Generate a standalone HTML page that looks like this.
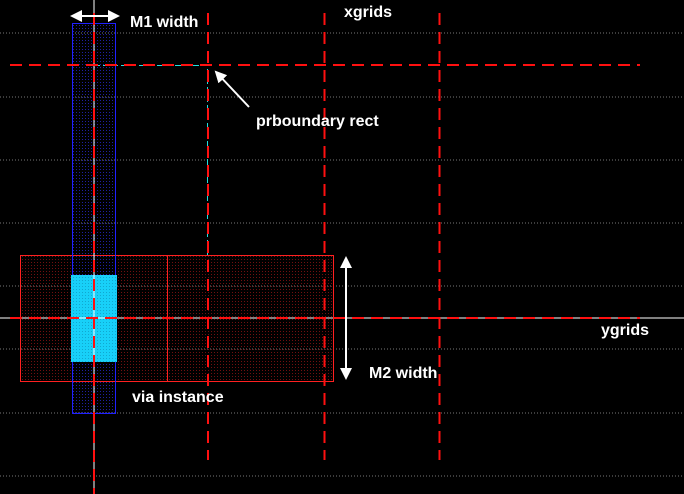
<!DOCTYPE html>
<html><head><meta charset="utf-8"><style>
html,body{margin:0;padding:0;background:#000;width:684px;height:494px;overflow:hidden}
text{font-family:"Liberation Sans",sans-serif;font-weight:bold;font-size:16px;fill:#fff}
</style></head><body>
<svg id="c" width="684" height="494" viewBox="0 0 684 494" xmlns="http://www.w3.org/2000/svg">
<defs>
<pattern id="pb" width="3" height="3" patternUnits="userSpaceOnUse"><rect x="1" y="1" width="1" height="1" fill="#2020a0"/></pattern>
<pattern id="pr" width="3" height="3" patternUnits="userSpaceOnUse"><rect x="1" y="1" width="1" height="1" fill="#701010"/></pattern>
<pattern id="pc" width="3" height="3" patternUnits="userSpaceOnUse"><rect width="3" height="3" fill="#18d0f8"/><rect x="1" y="1" width="1" height="1" fill="#10a8d0"/></pattern>
<marker id="ah" markerWidth="12" markerHeight="12" refX="10" refY="6" orient="auto-start-reverse" markerUnits="userSpaceOnUse"><path d="M0,0 L12,6 L0,12 z" fill="#fff"/></marker>
</defs>
<g id="grey"></g>
<g id="shapes"></g>
<g id="lines"></g>
<g id="labels"></g>
</svg>
<script>
const greyRows = [33, 97, 160, 223, 286, 349, 413, 476];
const xGrids = [208, 324.5, 439.5];
const yGridMain = 65;
const ySnap = 318;
const xSnap = 94;
const NS = "http://www.w3.org/2000/svg";
function mk(parent, tag, attrs){const e=document.createElementNS(NS,tag);for(const k in attrs)e.setAttribute(k,attrs[k]);document.getElementById(parent).appendChild(e);return e;}

greyRows.forEach(y=>{
  const l=mk('grey','line',{x1:0,x2:684,y1:y,y2:y,stroke:'#777','stroke-width':1,'stroke-dasharray':'1 2'});
  
  
});

let r=mk('shapes','rect',{x:20.5,y:255.5,width:313,height:126,fill:'url(#pr)',stroke:'#ff2020','stroke-width':1});


r=mk('shapes','line',{x1:167.5,x2:167.5,y1:255,y2:381,stroke:'#ff2020','stroke-width':1});


r=mk('shapes','rect',{x:72.5,y:23.5,width:43,height:390,fill:'url(#pb)',stroke:'#2020ff','stroke-width':1});


r=mk('shapes','rect',{x:71,y:275,width:46,height:87,fill:'url(#pc)'});


r=mk('shapes','path',{d:'M94,65.5 H207.5 V255',fill:'none',stroke:'#20e0e0','stroke-width':1,'stroke-dasharray':'6 3'});



r=mk('lines','line',{x1:0,x2:684,y1:ySnap,y2:ySnap,stroke:'#fff','stroke-width':1});


r=mk('lines','line',{x1:xSnap,x2:xSnap,y1:0,y2:494,stroke:'#fff','stroke-width':1});



xGrids.forEach(x=>{
  const l=mk('lines','line',{x1:x,x2:x,y1:13,y2:460,stroke:'#ff1010','stroke-width':2,'stroke-dasharray':'12 7'});
  
  
});
r=mk('lines','line',{x1:xSnap,x2:xSnap,y1:13,y2:494,stroke:'#ff1010','stroke-width':2,'stroke-dasharray':'12 7'});


r=mk('lines','line',{x1:10,x2:640,y1:yGridMain,y2:yGridMain,stroke:'#ff1010','stroke-width':2,'stroke-dasharray':'12 7'});


r=mk('lines','line',{x1:10,x2:640,y1:ySnap,y2:ySnap,stroke:'#ff1010','stroke-width':2,'stroke-dasharray':'12 7'});



r=mk('labels','line',{x1:72,x2:118,y1:16,y2:16,stroke:'#fff','stroke-width':2,'marker-end':'url(#ah)','marker-start':'url(#ah)'});


r=mk('labels','line',{x1:346,x2:346,y1:258,y2:378,stroke:'#fff','stroke-width':2,'marker-end':'url(#ah)','marker-start':'url(#ah)'});


r=mk('labels','line',{x1:249,x2:216,y1:107,y2:72,stroke:'#fff','stroke-width':2,'marker-end':'url(#ah)'});



const texts=[['M1 width',130,27,'m1-width-label'],['xgrids',344,17,'xgrids-label'],['prboundary rect',256,126,'prboundary-label'],['ygrids',601,335,'ygrids-label'],['M2 width',369,378,'m2-width-label'],['via instance',132,402,'via-instance-label']];
texts.forEach(t=>{
  const e=mk('labels','text',{x:t[1],y:t[2]});
  e.textContent=t[0];
  
  
});
</script>
</body></html>
